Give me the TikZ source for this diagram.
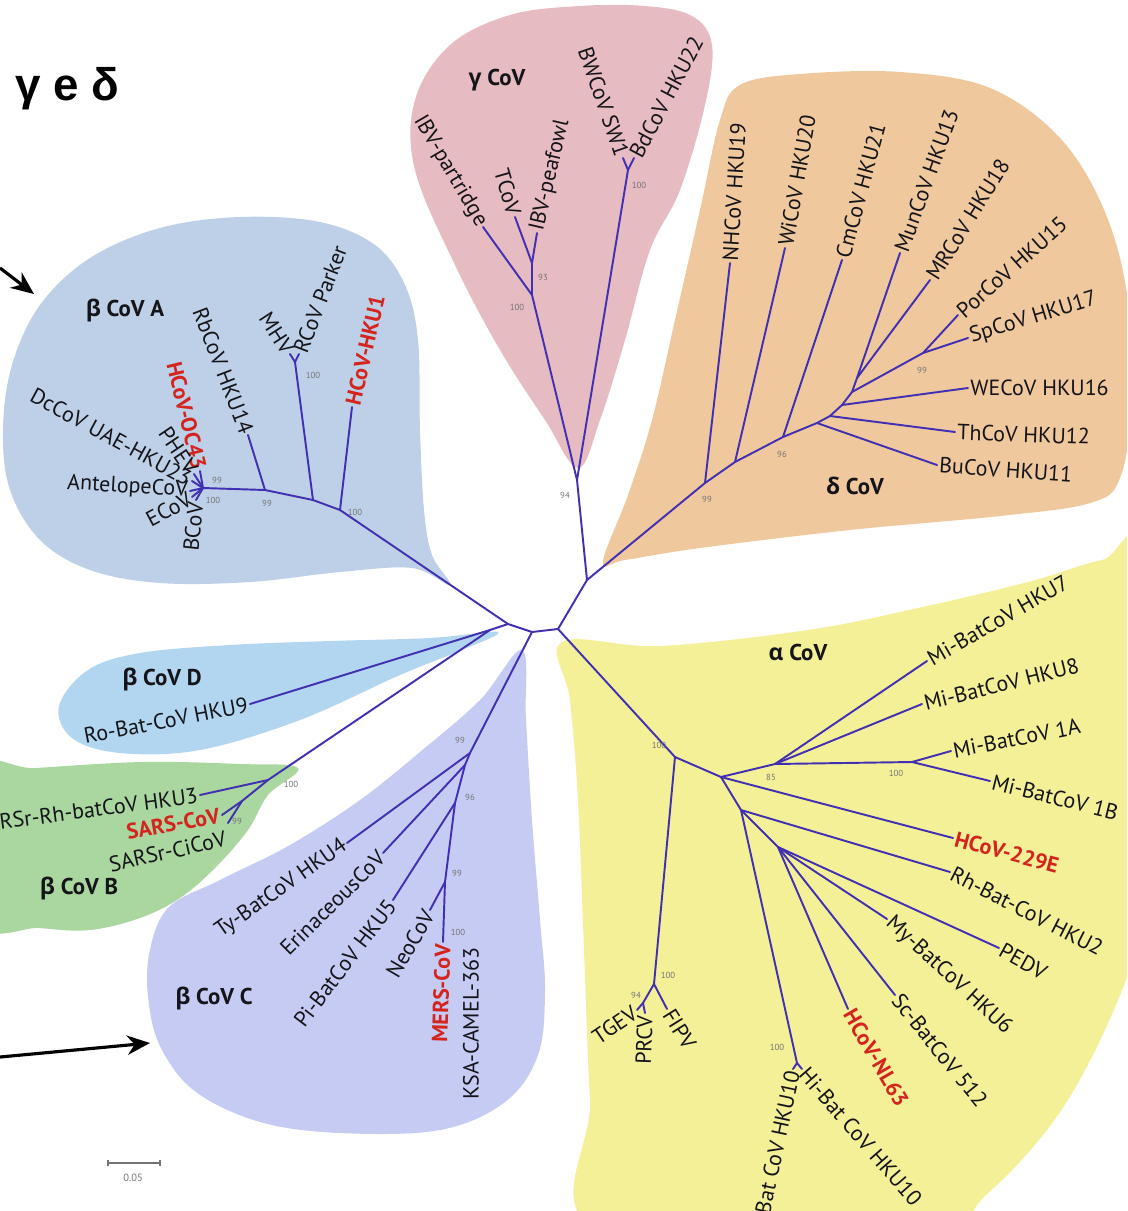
\documentclass[tikz,border=0pt]{standalone}
\usepackage{fontspec}
\setmainfont{PT Sans}
\newfontfamily\grk{Open Sans}
\newfontfamily\ttlfont{Liberation Sans}
\usetikzlibrary{arrows.meta}
\definecolor{gammaC}{RGB}{231,187,194}
\definecolor{deltaC}{RGB}{240,200,158}
\definecolor{betaA}{RGB}{190,208,232}
\definecolor{betaD}{RGB}{178,214,240}
\definecolor{betaB}{RGB}{170,214,160}
\definecolor{betaC}{RGB}{198,203,244}
\definecolor{alphaC}{RGB}{244,240,152}
\definecolor{branch}{RGB}{66,48,178}
\definecolor{hred}{RGB}{212,36,30}
\definecolor{bsgray}{RGB}{115,115,115}
\definecolor{labc}{RGB}{20,20,25}
\tikzset{
  br/.style={draw=branch, line width=1.1pt, line join=round, line cap=round},
  lf/.style={font=\fontsize{12.5}{13}\selectfont, text=labc, inner sep=1.2pt},
  hl/.style={font=\bfseries\fontsize{12.5}{13}\selectfont, text=hred, inner sep=1.2pt},
  bs/.style={font=\fontsize{5}{5}\selectfont, text=bsgray, inner sep=0pt},
  grp/.style={font=\bfseries\fontsize{13}{14}\selectfont, text=labc, inner sep=0pt},
  bigarrow/.style={draw=black, line width=1.8pt, -{Stealth[length=13pt,width=11pt]}},
}
\begin{document}
\begin{tikzpicture}[x=0.02cm,y=-0.02cm]
\useasboundingbox (0,0) rectangle (1127,1211);
\clip (0,0) rectangle (1127,1211);
\fill[white] (0,0) rectangle (1127,1211);

% ---------------- regions ----------------
\fill[alphaC] plot[smooth cycle, tension=0.6] coordinates {(562,642) (660,646) (808,630) (918,608) (1028,582) (1102,560) (1140,560) (1140,900) (1127,977) (1066,1103) (987,1194) (920,1230) (600,1230) (590,1100) (584,950) (578,800) (570,700)};
\fill[betaC] plot[smooth cycle, tension=0.6] coordinates {(522,650) (480,700) (420,752) (360,800) (290,845) (220,880) (168,908) (149,955) (149,1005) (162,1050) (196,1092) (260,1122) (340,1133) (440,1130) (505,1102) (538,1055) (545,990) (540,920) (532,820) (526,720)};
\fill[betaB] plot[smooth cycle, tension=0.6] coordinates {(-20,772) (36,768) (143,762) (240,764) (298,768) (268,795) (248,830) (215,868) (180,898) (140,918) (90,930) (40,928) (-20,920)};
\fill[betaD] plot[smooth cycle, tension=0.6] coordinates {(498,632) (430,638) (330,641) (230,645) (140,653) (88,670) (59,706) (72,738) (120,753) (200,750) (300,720) (400,675) (462,650)};
\fill[betaA] plot[smooth cycle, tension=0.6] coordinates {(450,585) (412,568) (340,572) (250,582) (160,583) (90,570) (40,540) (10,490) (3,430) (12,365) (40,305) (90,258) (160,228) (240,217) (320,222) (375,245) (405,285) (418,340) (420,430) (424,510) (432,555)};
\fill[gammaC] plot[smooth cycle, tension=0.6] coordinates {(578,468) (545,420) (500,350) (455,265) (415,170) (415,100) (450,45) (510,15) (580,6) (645,6) (692,16) (712,45) (705,105) (680,190) (650,250) (625,340) (600,420)};
\fill[deltaC] plot[smooth cycle, tension=0.6] coordinates {(603,562) (628,495) (652,420) (675,320) (700,210) (720,120) (740,85) (800,74) (900,72) (990,88) (1060,138) (1105,212) (1128,300) (1132,400) (1120,478) (1090,503) (1000,516) (850,530) (700,548) (625,560)};

% ---------------- tree coordinates ----------------
\coordinate (A) at (532,632);
\coordinate (B) at (558,629);
\coordinate (C) at (587,580);
\coordinate (D) at (508,624);
\coordinate (E) at (490,630);
% gamma
\coordinate (G0) at (577,480);
\coordinate (G1) at (532,295);
\coordinate (G2) at (532,263);
\coordinate (G3) at (628,170);
\coordinate (lIBVp) at (483,227);
\coordinate (lTC) at (515,217);
\coordinate (lIBVf) at (537,233);
\coordinate (lBW) at (623,158);
\coordinate (lBd) at (634,158);
% delta
\coordinate (d1) at (705,483);
\coordinate (d2) at (735,462);
\coordinate (d3) at (783,437);
\coordinate (d4) at (817,423);
\coordinate (d5) at (830,416);
\coordinate (d6) at (842,405);
\coordinate (d7) at (852,392);
\coordinate (d8) at (923,353);
\coordinate (d9) at (857,378);
\coordinate (lNH) at (730,263);
\coordinate (lWi) at (785,248);
\coordinate (lCm) at (842,260);
\coordinate (lMun) at (900,253);
\coordinate (lMR) at (930,280);
\coordinate (lPor) at (958,315);
\coordinate (lSp) at (968,338);
\coordinate (lWE) at (968,388);
\coordinate (lTh) at (955,432);
\coordinate (lBu) at (937,465);
% alpha
\coordinate (a1) at (675,757);
\coordinate (a2) at (721,777);
\coordinate (a3) at (775,764);
\coordinate (a4) at (912,762);
\coordinate (a5) at (741,810);
\coordinate (a6) at (778,847);
\coordinate (rh) at (797,1063);
\coordinate (t1) at (654,984);
\coordinate (t2) at (643,1003);
\coordinate (lH7) at (927,661);
\coordinate (lH8) at (922,704);
\coordinate (l1A) at (951,751);
\coordinate (l1B) at (990,781);
\coordinate (l229) at (953,838);
\coordinate (lRh) at (950,872);
\coordinate (lPED) at (999,948);
\coordinate (lMy) at (887,919);
\coordinate (lSc) at (895,995);
\coordinate (lNL) at (848,1009);
\coordinate (lRo) at (793,1069);
\coordinate (lHi) at (802,1069);
\coordinate (lTGEV) at (637,1010);
\coordinate (lPRCV) at (645,1013);
\coordinate (lFIPV) at (667,1009);
% beta A
\coordinate (aA1) at (340,510);
\coordinate (aA2) at (313,500);
\coordinate (aA3) at (265,490);
\coordinate (aA4) at (203,488);
\coordinate (aMR) at (295,362);
\coordinate (lHKU1) at (352,407);
\coordinate (lMHV) at (290,354);
\coordinate (lRCoV) at (299,354);
\coordinate (lRb) at (248,435);
\coordinate (lOC) at (200,471);
\coordinate (lPH) at (194,474);
\coordinate (lDc) at (192,481);
\coordinate (lAnt) at (190,491);
\coordinate (lEC) at (192,497);
\coordinate (lBC) at (196,500);
% beta D / B
\coordinate (lRo9) at (250,704);
\coordinate (bB) at (268,780);
\coordinate (bB2) at (242,801);
\coordinate (lHKU3) at (200,795);
\coordinate (lSARS) at (222,815);
\coordinate (lCi) at (228,823);
% beta C
\coordinate (c1) at (470,753);
\coordinate (c2) at (465,765);
\coordinate (c3) at (455,803);
\coordinate (c4) at (445,882);
\coordinate (lTy) at (347,843);
\coordinate (lEr) at (383,853);
\coordinate (lPi) at (393,900);
\coordinate (lNeo) at (430,910);
\coordinate (lMERS) at (443,942);

% ---------------- branches ----------------
\draw[br] (D) -- (A) -- (B) -- (C);
\draw[br] (D) -- (E);
\draw[br] (C) -- (G0);
\draw[br] (G0) -- (G1) -- (lIBVp);
\draw[br] (G1) -- (G2) -- (lTC);
\draw[br] (G2) -- (lIBVf);
\draw[br] (G0) -- (G3) -- (lBW);
\draw[br] (G3) -- (lBd);
% delta
\draw[br] (C) -- (d1) -- (lNH);
\draw[br] (d1) -- (d2) -- (lWi);
\draw[br] (d2) -- (d3) -- (lCm);
\draw[br] (d3) -- (d4) -- (lBu);
\draw[br] (d4) -- (d5) -- (lTh);
\draw[br] (d5) -- (d6) -- (lWE);
\draw[br] (d6) -- (d7) -- (d8) -- (lPor);
\draw[br] (d8) -- (lSp);
\draw[br] (d7) -- (d9) -- (lMun);
\draw[br] (d9) -- (lMR);
% alpha
\draw[br] (B) -- (a1) -- (t1) -- (t2) -- (lTGEV);
\draw[br] (t2) -- (lPRCV);
\draw[br] (t1) -- (lFIPV);
\draw[br] (a1) -- (a2) -- (a3) -- (lH7);
\draw[br] (a3) -- (lH8);
\draw[br] (a3) -- (a4) -- (l1A);
\draw[br] (a4) -- (l1B);
\draw[br] (a2) -- (l229);
\draw[br] (a2) -- (a5) -- (lRh);
\draw[br] (a5) -- (a6) -- (lPED);
\draw[br] (a6) -- (lMy);
\draw[br] (a6) -- (lSc);
\draw[br] (a6) -- (lNL);
\draw[br] (a5) -- (rh) -- (lRo);
\draw[br] (rh) -- (lHi);
% beta A
\draw[br] (D) -- (aA1) -- (lHKU1);
\draw[br] (aA1) -- (aA2) -- (aMR) -- (lMHV);
\draw[br] (aMR) -- (lRCoV);
\draw[br] (aA2) -- (aA3) -- (lRb);
\draw[br] (aA3) -- (aA4) -- (lOC);
\draw[br] (aA4) -- (lPH);
\draw[br] (aA4) -- (lDc);
\draw[br] (aA4) -- (lAnt);
\draw[br] (aA4) -- (lEC);
\draw[br] (aA4) -- (lBC);
% beta D / B
\draw[br] (E) -- (lRo9);
\draw[br] (E) -- (bB) -- (lHKU3);
\draw[br] (bB) -- (bB2) -- (lSARS);
\draw[br] (bB2) -- (lCi);
% beta C
\draw[br] (A) -- (c1) -- (lTy);
\draw[br] (c1) -- (c2) -- (lEr);
\draw[br] (c2) -- (c3) -- (lPi);
\draw[br] (c3) -- (c4) -- (lNeo);
\draw[br] (c4) -- (lMERS);

% ---------------- leaf labels ----------------
% gamma
\node[lf, anchor=east, rotate=-59.5] (tIBVp) at (lIBVp) {IBV-partridge};
\node[lf, anchor=east, rotate=-74] (tTC) at (lTC) {TCoV};
\node[lf, anchor=west, rotate=77] (tIBVf) at (lIBVf) {IBV-peafowl};
\node[lf, anchor=east, rotate=-71] (tBW) at (lBW) {BWCoV SW1};
\node[lf, anchor=west, rotate=62] (tBd) at (lBd) {BdCoV HKU22};
% delta
\node[lf, anchor=west, rotate=86.6] (tNH) at (lNH) {NHCoV HKU19};
\node[lf, anchor=west, rotate=80] (tWi) at (lWi) {WiCoV HKU20};
\node[lf, anchor=west, rotate=75] (tCm) at (lCm) {CmCoV HKU21};
\node[lf, anchor=west, rotate=70] (tMun) at (lMun) {MunCoV HKU13};
\node[lf, anchor=west, rotate=58] (tMR) at (lMR) {MRCoV HKU18};
\node[lf, anchor=west, rotate=41.6] (tPor) at (lPor) {PorCoV HKU15};
\node[lf, anchor=west, rotate=17] (tSp) at (lSp) {SpCoV HKU17};
\node[lf, anchor=west, rotate=0] (tWE) at (lWE) {WECoV HKU16};
\node[lf, anchor=west, rotate=-2] (tTh) at (lTh) {ThCoV HKU12};
\node[lf, anchor=west, rotate=-4] (tBu) at (lBu) {BuCoV HKU11};
% alpha
\node[lf, anchor=west, rotate=30] (tH7) at (lH7) {Mi-BatCoV HKU7};
\node[lf, anchor=west, rotate=14] (tH8) at (lH8) {Mi-BatCoV HKU8};
\node[lf, anchor=west, rotate=11] (t1A) at (l1A) {Mi-BatCoV 1A};
\node[lf, anchor=west, rotate=-14] (t1B) at (l1B) {Mi-BatCoV 1B};
\node[hl, anchor=west, rotate=-15] (t229) at (l229) {HCoV-229E};
\node[lf, anchor=west, rotate=-27] (tRh) at (lRh) {Rh-Bat-CoV HKU2};
\node[lf, anchor=west, rotate=-29] (tPED) at (lPED) {PEDV};
\node[lf, anchor=west, rotate=-42.6] (tMy) at (lMy) {My-BatCoV HKU6};
\node[lf, anchor=west, rotate=-51] (tSc) at (lSc) {Sc-BatCoV 512};
\node[hl, anchor=west, rotate=-60] (tNL) at (lNL) {HCoV-NL63};
\node[lf, anchor=west, rotate=-49] (tHi) at (lHi) {Hi-Bat CoV HKU10};
\node[lf, anchor=east, rotate=78] (tRo) at (lRo) {Ro-Bat CoV HKU10};
\node[lf, anchor=east, rotate=34] (tTGEV) at (lTGEV) {TGEV};
\node[lf, anchor=east, rotate=88] (tPRCV) at (lPRCV) {PRCV};
\node[lf, anchor=west, rotate=-58] (tFIPV) at (lFIPV) {FIPV};
% beta A
\node[hl, anchor=west, rotate=77] (tHKU1) at (lHKU1) {HCoV-HKU1};
\node[lf, anchor=west, rotate=69] (tRCoV) at (lRCoV) {RCoV Parker};
\node[lf, anchor=east, rotate=-57] (tMHV) at (lMHV) {MHV};
\node[lf, anchor=east, rotate=-69] (tRb) at (lRb) {RbCoV HKU14};
\node[hl, anchor=east, rotate=-76.5] (tOC) at (lOC) {HCoV-OC43};
\node[lf, anchor=east, rotate=-56] (tPH) at (lPH) {PHEV};
\node[lf, anchor=east, rotate=-28.5] (tDc) at (lDc) {DcCoV UAE-HKU23};
\node[lf, anchor=east, rotate=-3.5] (tAnt) at (lAnt) {AntelopeCoV};
\node[lf, anchor=east, rotate=28] (tEC) at (lEC) {ECoV};
\node[lf, anchor=east, rotate=84] (tBC) at (lBC) {BCoV};
% beta D / B
\node[lf, anchor=east, rotate=11] (tRo9) at (lRo9) {Ro-Bat-CoV HKU9};
\node[lf, anchor=east, rotate=7.6] (tHKU3) at (lHKU3) {SARSr-Rh-batCoV HKU3};
\node[hl, anchor=east, rotate=10] (tSARS) at (lSARS) {SARS-CoV};
\node[lf, anchor=east, rotate=12.7] (tCi) at ([yshift=-0.3cm]lCi) {SARSr-CiCoV};
% beta C
\node[lf, anchor=east, rotate=35] (tTy) at (lTy) {Ty-BatCoV HKU4};
\node[lf, anchor=east, rotate=44.7] (tEr) at (lEr) {ErinaceousCoV};
\node[lf, anchor=east, rotate=52.7] (tPi) at (lPi) {Pi-BatCoV HKU5};
\node[lf, anchor=east, rotate=59.6] (tNeo) at (lNeo) {NeoCoV};
\node[hl, anchor=east, rotate=88] (tMERS) at (lMERS) {MERS-CoV};
\coordinate (kKSA) at (471,945);
\node[lf, anchor=east, rotate=90] (tKSA) at (kKSA) {KSA-CAMEL-363};

% ---------------- bootstrap values ----------------
\node[bs] (v1) at (565,495) {94};
\node[bs] (v2) at (517,307) {100};
\node[bs] (v3) at (543,277) {93};
\node[bs] (v4) at (639,185) {100};
\node[bs] (v5) at (707,499) {99};
\node[bs] (v6) at (782,454) {96};
\node[bs] (v7) at (922,370) {99};
\node[bs] (v8) at (659,745) {100};
\node[bs] (v9) at (771,777) {85};
\node[bs] (v10) at (896,773) {100};
\node[bs] (v11) at (668,975) {100};
\node[bs] (v12) at (636,995) {94};
\node[bs] (v13) at (777,1047) {100};
\node[bs] (v14) at (313,375) {100};
\node[bs] (v15) at (355,512) {100};
\node[bs] (v16) at (267,503) {99};
\node[bs] (v17) at (213,500) {100};
\node[bs] (v18) at (217,480) {99};
\node[bs] (v19) at (291,784) {100};
\node[bs] (v20) at (237,821) {99};
\node[bs] (v21) at (460,740) {99};
\node[bs] (v22) at (470,797) {96};
\node[bs] (v23) at (457,873) {99};
\node[bs] (v24) at (458,932) {100};

% ---------------- group labels ----------------
\node[grp] (gG) at (497,80) {{\grk γ} CoV};
\node[grp] (gD) at (855,486) {{\grk δ} CoV};
\node[grp] (gAl) at (798,652) {{\grk α} CoV};
\node[grp] (gBA) at (125,310) {{\grk β} CoV A};
\node[grp] (gBD) at (162,679) {{\grk β} CoV D};
\node[grp] (gBB) at (79,888) {{\grk β} CoV B};
\node[grp] (gBC) at (214,998) {{\grk β} CoV C};

% ---------------- title, arrows, scale ----------------
\node[anchor=base west, inner sep=0pt, font=\ttlfont\bfseries\fontsize{26}{28}\selectfont] (title) at (15,100) {γ e δ};
\coordinate (ar1s) at (0,268);
\coordinate (ar1e) at (34,294);
\draw[bigarrow] (ar1s) -- (ar1e);
\coordinate (ar2s) at (0,1057);
\coordinate (ar2e) at (150,1043);
\draw[bigarrow] (ar2s) -- (ar2e);
\coordinate (sb1) at (108,1163);
\coordinate (sb2) at (160,1163);
\draw[bsgray, line width=0.6pt] (sb1) -- (sb2);
\draw[bsgray, line width=0.6pt] ([yshift=-0.06cm]sb1) -- ([yshift=0.06cm]sb1);
\draw[bsgray, line width=0.6pt] ([yshift=-0.06cm]sb2) -- ([yshift=0.06cm]sb2);
\node[bs, font=\fontsize{6}{6}\selectfont] (sbl) at (133,1178) {0.05};
\end{tikzpicture}
\end{document}
